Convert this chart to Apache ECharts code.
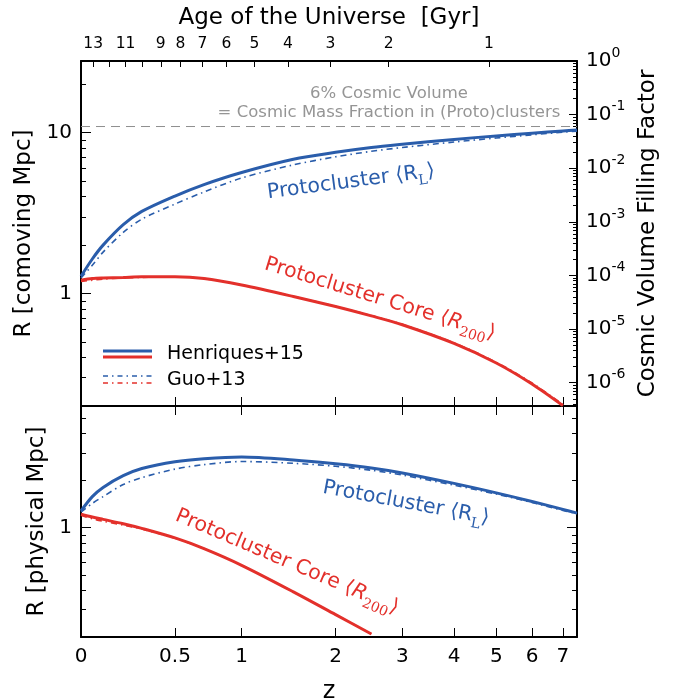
<!DOCTYPE html>
<html>
<head>
<meta charset="UTF-8">
<title>Protocluster sizes</title>
<script src="https://cdn.jsdelivr.net/npm/echarts@6/dist/echarts.min.js"></script>
<style>
  body { margin: 0; background: #fff; }
  #chart { width: 680px; height: 700px; }
</style>
</head>
<body>
<div id="chart"></div>
<script>
// redshift samples shared by every curve
const zGrid = [0, 0.05, 0.1, 0.2, 0.3, 0.5, 0.7, 1, 1.5, 2, 2.5, 3, 4, 5, 6, 7, 7.5]
// top panel, comoving Mpc
const comovHenriquesRL = [1.28, 1.64, 2.0, 2.68, 3.24, 4.04, 4.76, 5.66, 6.84, 7.55, 8.09, 8.47, 9.08, 9.55, 9.93, 10.25, 10.4]
const comovGuoRL = [1.25, 1.50, 1.81, 2.40, 2.90, 3.60, 4.28, 5.23, 6.31, 7.08, 7.66, 8.09, 8.75, 9.27, 9.70, 10.07, 10.23]
const comovHenriquesR200 = [1.21, 1.24, 1.25, 1.26, 1.27, 1.27, 1.24, 1.13, 0.959, 0.830, 0.726, 0.640, 0.490, 0.370, 0.274, 0.201]
const comovGuoR200 = [1.19, 1.21, 1.23, 1.25, 1.26, 1.27, 1.24, 1.13, 0.96, 0.832, 0.729, 0.644, 0.494, 0.374, 0.278, 0.204]
// bottom panel, physical Mpc
const physHenriquesRL = [1.28, 1.58, 1.81, 2.15, 2.39, 2.64, 2.76, 2.83, 2.71, 2.56, 2.41, 2.24, 1.92, 1.67, 1.47, 1.31, 1.24]
const physGuoRL = [1.26, 1.43, 1.58, 1.89, 2.09, 2.37, 2.53, 2.65, 2.58, 2.47, 2.33, 2.17, 1.87, 1.64, 1.45, 1.29, 1.23]
const physHenriquesR200 = [1.22, 1.17, 1.13, 1.06, 0.99, 0.860, 0.735, 0.575, 0.389, 0.278, 0.209]
const physGuoR200 = [1.20, 1.14, 1.10, 1.04, 0.98, 0.856, 0.735, 0.575, 0.389, 0.278, 0.209]
// 6% volume line
const volumeFraction = 0.06

// axes
const zTicks = [0, 0.5, 1, 2, 3, 4, 5, 6, 7]
const zMax = 7.5
const ageTicks = [13, 12, 11, 10, 9, 8, 7, 6, 5, 4, 3, 2, 1]
const ageTickZ = [0.054, 0.129, 0.212, 0.304, 0.411, 0.536, 0.689, 0.873, 1.114, 1.441, 1.934, 2.77, 4.81]
const ageLabelled = [13, 11, 9, 8, 7, 6, 5, 4, 3, 2, 1]
const rMin = 0.2
const rUnitVolume = 27.9   // R where filling factor = 1
const rMaxPhys = 6.0
const rMinorTop = [0.3, 0.4, 0.5, 0.6, 0.7, 0.8, 0.9, 2, 3, 4, 5, 6, 7, 8, 9, 20]
const rMinorBottom = [0.3, 0.4, 0.5, 0.6, 0.7, 0.8, 0.9, 2, 3, 4, 5]
const fMajor = [-6, -5, -4, -3, -2, -1, 0]

const BLUE = '#2a5dab'
const RED = '#e3302b'
const FONT = 'DejaVu Sans'
const lg = Math.log10
const ux = z => lg(1 + z)

const fMin = 3 * (lg(rMin) - lg(rUnitVolume))
const fMinor = []
for (let n = -7; n < 0; n++) {
  for (let k = 2; k <= 9; k++) {
    const v = n + lg(k)
    if (v > fMin) fMinor.push(v)
  }
}

const pts = arr => arr.map((r, i) => [ux(zGrid[i]), lg(r)])

function tickAxis (extra) {
  return Object.assign({
    type: 'value',
    axisLine: { show: true, onZero: false, lineStyle: { color: '#000', width: 2 } },
    axisTick: { show: true, inside: true, length: 9, lineStyle: { color: '#000', width: 1 } },
    axisLabel: { show: false },
    splitLine: { show: false }
  }, extra)
}
function minorAxis (extra, values, len) {
  const a = tickAxis(extra)
  a.axisLine = { show: false, onZero: false }
  a.axisTick = { show: true, inside: true, length: len || 5, customValues: values, lineStyle: { color: '#000', width: 1 } }
  return a
}

const xMax = ux(zMax)
const zTickVals = zTicks.map(ux)
const labelStyle = { fontFamily: FONT, fontSize: 20, color: '#000' }
const nameStyle = { fontFamily: FONT, fontSize: 23, color: '#000' }

const xAxis = [
  tickAxis({ gridIndex: 0, position: 'bottom', min: 0, max: xMax,
    axisTick: { show: true, inside: true, length: 9, customValues: zTickVals, lineStyle: { color: '#000' } } }),
  tickAxis({ gridIndex: 0, position: 'top', min: 0, max: xMax,
    axisTick: { show: true, inside: true, length: 6, customValues: ageTickZ.map(ux), lineStyle: { color: '#000' } },
    axisLabel: Object.assign({}, labelStyle, {
      show: true, fontSize: 15.5, margin: 9,
      customValues: ageLabelled.map(a => ux(ageTickZ[ageTicks.indexOf(a)])),
      formatter: v => {
        let best = 0
        ageTickZ.forEach((z, i) => { if (Math.abs(ux(z) - v) < Math.abs(ux(ageTickZ[best]) - v)) best = i })
        return String(ageTicks[best])
      }
    }),
    name: 'Age of the Universe  [Gyr]', nameLocation: 'middle', nameGap: 31, nameTextStyle: nameStyle }),
  tickAxis({ gridIndex: 1, position: 'bottom', min: 0, max: xMax,
    axisTick: { show: true, inside: true, length: 9, customValues: zTickVals, lineStyle: { color: '#000' } },
    axisLabel: Object.assign({}, labelStyle, {
      show: true, margin: 10, customValues: zTickVals,
      formatter: v => String(Math.round((Math.pow(10, v) - 1) * 10) / 10)
    }),
    name: 'z', nameLocation: 'middle', nameGap: 43, nameTextStyle: Object.assign({}, nameStyle, { fontSize: 24 }) }),
  tickAxis({ gridIndex: 1, position: 'top', min: 0, max: xMax,
    axisTick: { show: true, inside: true, length: 9, customValues: zTickVals, lineStyle: { color: '#000' } } })
]

const yAxis = [
  // 0 top left
  tickAxis({ gridIndex: 0, position: 'left', min: lg(rMin), max: lg(rUnitVolume),
    axisTick: { show: true, inside: true, length: 10, customValues: [0, 1], lineStyle: { color: '#000' } },
    axisLabel: Object.assign({}, labelStyle, { show: true, margin: 9, customValues: [0, 1],
      formatter: v => String(Math.round(Math.pow(10, v))) }),
    name: 'R [comoving Mpc]', nameLocation: 'middle', nameGap: 44, nameRotate: 90, nameTextStyle: nameStyle }),
  // 1 top left minor
  minorAxis({ gridIndex: 0, position: 'left', min: lg(rMin), max: lg(rUnitVolume) }, rMinorTop.map(lg)),
  // 2 top right, volume filling factor
  tickAxis({ gridIndex: 0, position: 'right', min: fMin, max: 0,
    axisTick: { show: true, inside: true, length: 8, customValues: fMajor, lineStyle: { color: '#000' } },
    axisLabel: Object.assign({}, labelStyle, { show: true, margin: 9, customValues: fMajor, lineHeight: 30,
      formatter: v => '10{sup|' + Math.round(v) + '}',
      rich: { sup: { fontFamily: FONT, fontSize: 14, lineHeight: 14, verticalAlign: 'top', color: '#000' } } }),
    name: 'Cosmic Volume Filling Factor', nameLocation: 'middle', nameGap: 60, nameRotate: 90, nameTextStyle: nameStyle }),
  // 3 top right minor
  minorAxis({ gridIndex: 0, position: 'right', min: fMin, max: 0 }, fMinor, 4),
  // 4 bottom left
  tickAxis({ gridIndex: 1, position: 'left', min: lg(rMin), max: lg(rMaxPhys),
    axisTick: { show: true, inside: true, length: 10, customValues: [0], lineStyle: { color: '#000' } },
    axisLabel: Object.assign({}, labelStyle, { show: true, margin: 9, customValues: [0], formatter: () => '1' }),
    name: 'R [physical Mpc]', nameLocation: 'middle', nameGap: 31, nameRotate: 90, nameTextStyle: nameStyle }),
  // 5 bottom left minor
  minorAxis({ gridIndex: 1, position: 'left', min: lg(rMin), max: lg(rMaxPhys) }, rMinorBottom.map(lg)),
  // 6 bottom right mirror
  tickAxis({ gridIndex: 1, position: 'right', min: lg(rMin), max: lg(rMaxPhys),
    axisTick: { show: true, inside: true, length: 10, customValues: [0], lineStyle: { color: '#000' } } }),
  // 7 bottom right minor
  minorAxis({ gridIndex: 1, position: 'right', min: lg(rMin), max: lg(rMaxPhys) }, rMinorBottom.map(lg))
]

function curve (name, data, xi, yi, color, dashed) {
  return {
    name, type: 'line', xAxisIndex: xi, yAxisIndex: yi, data: pts(data),
    showSymbol: false, smooth: 0.3, clip: true, silent: true,
    lineStyle: dashed ? { color, width: 1.6, type: [6, 4, 1.5, 4] } : { color, width: 3 },
    z: dashed ? 2 : 3
  }
}

const series = [
  curve('Guo+13 RL', comovGuoRL, 0, 0, BLUE, true),
  curve('Guo+13 R200', comovGuoR200, 0, 0, RED, true),
  curve('Henriques+15 RL', comovHenriquesRL, 0, 0, BLUE, false),
  curve('Henriques+15 R200', comovHenriquesR200, 0, 0, RED, false),
  {
    name: '6% volume', type: 'line', xAxisIndex: 0, yAxisIndex: 2, showSymbol: false, silent: true,
    data: [[0, lg(volumeFraction)], [xMax, lg(volumeFraction)]],
    lineStyle: { color: '#8f8f8f', width: 1, type: [9, 6] }, z: 1
  },
  curve('Guo+13 RL phys', physGuoRL, 2, 4, BLUE, true),
  curve('Guo+13 R200 phys', physGuoR200, 2, 4, RED, true),
  curve('Henriques+15 RL phys', physHenriquesRL, 2, 4, BLUE, false),
  curve('Henriques+15 R200 phys', physHenriquesR200, 2, 4, RED, false)
]

function label (x, y, deg, text, color) {
  return {
    type: 'text', x, y, rotation: deg * Math.PI / 180, z: 10,
    style: {
      text, fill: color, fontFamily: FONT, fontSize: 20.5, align: 'center', verticalAlign: 'middle', lineHeight: 30,
      rich: {
        sub: { fill: color, fontFamily: 'DejaVu Serif', fontSize: 14, lineHeight: 14, verticalAlign: 'bottom' },
        it: { fill: color, fontFamily: FONT, fontStyle: 'italic', fontSize: 20.5 }
      }
    }
  }
}

const graphic = [
  { type: 'text', x: 389, y: 94, style: { text: '6% Cosmic Volume', fill: '#959595', fontFamily: FONT, fontSize: 16.5, align: 'center', verticalAlign: 'middle' } },
  { type: 'text', x: 389, y: 113, style: { text: '= Cosmic Mass Fraction in (Proto)clusters', fill: '#959595', fontFamily: FONT, fontSize: 16.5, align: 'center', verticalAlign: 'middle' } },
  label(351, 182, 7.5, 'Protocluster \u27E8R{sub|L}\u27E9', BLUE),
  label(380, 299, -17, 'Protocluster Core \u27E8{it|R}{sub|200}\u27E9', RED),
  label(406, 503, -10.5, 'Protocluster \u27E8R{sub|L}\u27E9', BLUE),
  label(287, 562, -23, 'Protocluster Core \u27E8{it|R}{sub|200}\u27E9', RED),
  // legend
  { type: 'line', shape: { x1: 103, y1: 351, x2: 152, y2: 351 }, style: { stroke: BLUE, lineWidth: 3 } },
  { type: 'line', shape: { x1: 103, y1: 357, x2: 152, y2: 357 }, style: { stroke: RED, lineWidth: 3 } },
  { type: 'line', shape: { x1: 103, y1: 376, x2: 152, y2: 376 }, style: { stroke: BLUE, lineWidth: 1.6, lineDash: [5, 4, 1.5, 4] } },
  { type: 'line', shape: { x1: 103, y1: 383, x2: 152, y2: 383 }, style: { stroke: RED, lineWidth: 1.6, lineDash: [5, 4, 1.5, 4] } },
  { type: 'text', x: 167, y: 354, style: { text: 'Henriques+15', fill: '#000', fontFamily: FONT, fontSize: 19, verticalAlign: 'middle' } },
  { type: 'text', x: 167, y: 380, style: { text: 'Guo+13', fill: '#000', fontFamily: FONT, fontSize: 19, verticalAlign: 'middle' } }
]

const chart = echarts.init(document.getElementById('chart'), null, { renderer: 'canvas' })
chart.setOption({
  animation: false,
  backgroundColor: '#fff',
  grid: [
    { left: 81, right: 103, top: 61, height: 345, outerBoundsMode: 'none' },
    { left: 81, right: 103, top: 406, height: 231, outerBoundsMode: 'none' }
  ],
  xAxis,
  yAxis,
  series,
  graphic
})
</script>
</body>
</html>
